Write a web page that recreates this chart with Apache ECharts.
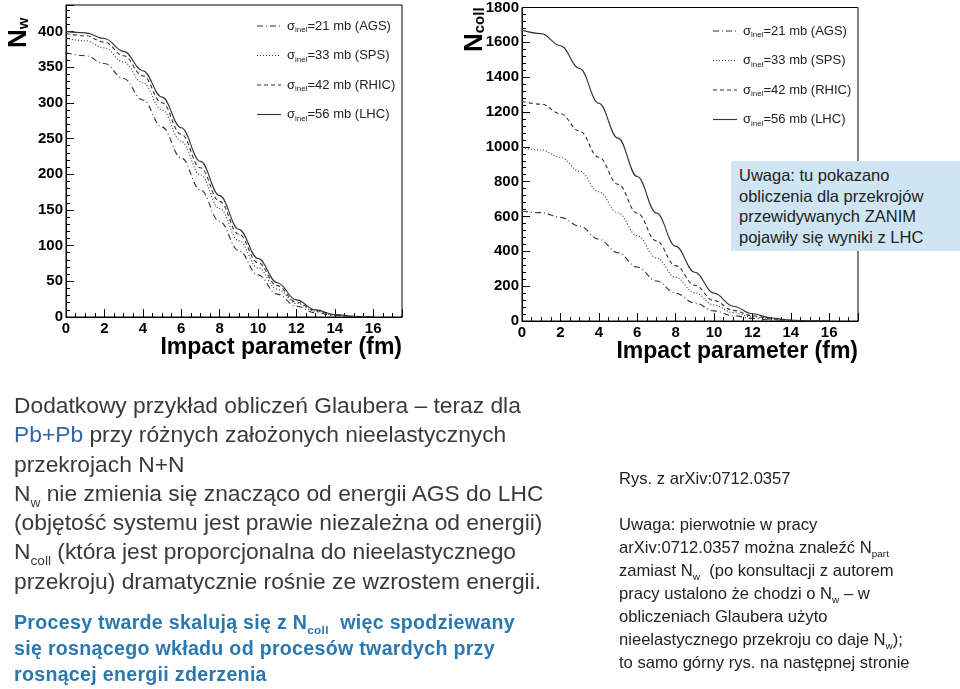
<!DOCTYPE html>
<html><head><meta charset="utf-8">
<script src="https://cdn.jsdelivr.net/npm/echarts@6/dist/echarts.min.js"></script>
<style>
body{margin:0;width:960px;height:689px;position:relative;background:#fff;font-family:"Liberation Sans",Arial,sans-serif;overflow:hidden}
#c{position:absolute;left:0;top:0;width:960px;height:689px}
.t{position:absolute;color:#3a3a3a}
sub{font-size:60%;line-height:0}
</style></head><body>
<div id="c"></div>
<div class="t" style="left:731px;top:161px;width:221px;height:86px;padding:4px 0 0 8px;background:#cfe5f3;font-size:16.5px;line-height:20.5px;color:#222">Uwaga: tu pokazano obliczenia dla przekrojów przewidywanych ZANIM pojawiły się wyniki z LHC</div>
<div class="t" style="left:14px;top:391px;font-size:22.8px;line-height:29.3px;width:600px">Dodatkowy przykład obliczeń Glaubera – teraz dla<br><span style="color:#3465a4">Pb+Pb</span> przy różnych założonych nieelastycznych<br>przekrojach N+N<br>N<sub>w</sub> nie zmienia się znacząco od energii AGS do LHC<br>(objętość systemu jest prawie niezależna od energii)<br>N<sub>coll</sub> (która jest proporcjonalna do nieelastycznego<br>przekroju) dramatycznie rośnie ze wzrostem energii.</div>
<div class="t" style="left:14px;top:609px;font-size:19.6px;line-height:26px;color:#2a78ad;font-weight:bold;letter-spacing:0.3px">Procesy twarde skalują się z N<sub>coll</sub>&nbsp; więc spodziewany<br>się rosnącego wkładu od procesów twardych przy<br>rosnącej energii zderzenia</div>
<div class="t" style="left:619px;top:467px;font-size:16.6px;line-height:23px;color:#222">Rys. z arXiv:0712.0357<br><div style="height:23px"></div>Uwaga: pierwotnie w pracy<br>arXiv:0712.0357 można znaleźć N<sub>part</sub><br>zamiast N<sub>w</sub> &nbsp;(po konsultacji z autorem<br>pracy ustalono że chodzi o N<sub>w</sub> – w<br>obliczeniach Glaubera użyto<br>nieelastycznego przekroju co daje N<sub>w</sub>);<br>to samo górny rys. na następnej stronie</div>
<script>
const b = [0,1,2,3,4,5,6,7,8,9,10,11,12,13,14,15,16];
const labels = ['21 mb (AGS)','33 mb (SPS)','42 mb (RHIC)','56 mb (LHC)'];
const nwAGS  = [370,366,355,334,304,266,223,178,134,93,59,32,15,6,2,0.5,0.1];
const nwSPS  = [390,387,377,357,328,290,246,199,152,107,69,39,19,8,2.5,0.6,0.1];
const nwRHIC = [397,394,385,366,338,300,256,209,162,116,76,44,21,9,3,0.8,0.1];
const nwLHC  = [400,398,390,372,345,308,265,218,170,123,82,48,24,10,3.5,1,0.2];
const ncAGS  = [630,622,595,545,470,392,310,230,160,103,58,30,15,6,2,0.4,0.1];
const ncSPS  = [995,982,940,860,742,620,490,363,251,162,92,48,24,9,3,0.6,0.1];
const ncRHIC = [1260,1245,1190,1090,940,785,620,460,318,205,117,61,30,12,3.5,0.8,0.1];
const ncLHC  = [1670,1650,1580,1450,1250,1050,830,620,430,280,160,85,42,17,5,1,0.2];
const styles = [[6,3,1,3],[1,2],[4,3],'solid'];
const lab = {fontFamily:'Liberation Sans',fontWeight:'bold',fontSize:15,color:'#000'};
function xAx(g){return {type:'value',gridIndex:g,min:0,max:17.5,interval:2,
  axisLine:{lineStyle:{color:'#000'}},axisTick:{inside:true,length:8,lineStyle:{color:'#000'}},
  minorTick:{show:true,splitNumber:4,length:4,lineStyle:{color:'#000'}},
  axisLabel:Object.assign({margin:4,showMaxLabel:false,formatter:v=>String(v)},lab),splitLine:{show:false},
  name:'Impact parameter (fm)',nameLocation:'end',nameGap:0,
  nameTextStyle:{fontFamily:'Liberation Sans',fontWeight:'bold',fontSize:23,color:'#000',align:'right',verticalAlign:'top',padding:[19,0,0,0]}};}
function yAx(g,max,iv,showMax){return {type:'value',gridIndex:g,min:0,max:max,interval:iv,
  axisLine:{lineStyle:{color:'#000'}},axisTick:{inside:true,length:8,lineStyle:{color:'#000'}},
  minorTick:{show:true,splitNumber:5,length:4,lineStyle:{color:'#000'}},
  axisLabel:Object.assign({margin:3,showMaxLabel:showMax,formatter:v=>String(v)},lab),splitLine:{show:false}};}
function ser(data,i,g){return {type:'line',xAxisIndex:g,yAxisIndex:g,smooth:0.4,smoothMonotone:'x',showSymbol:false,
  data:b.map((x,k)=>[x,data[k]]),lineStyle:{color:'#333',width:1.1,type:styles[i]}};}
const ch = echarts.init(document.getElementById('c'));
const series=[];
[nwAGS,nwSPS,nwRHIC,nwLHC].forEach((d,i)=>series.push(ser(d,i,0)));
[ncAGS,ncSPS,ncRHIC,ncLHC].forEach((d,i)=>series.push(ser(d,i,1)));
const graphic=[];
[[0,257,26],[1,713,31]].forEach(([g,x0,y0])=>{
  labels.forEach((t,i)=>{
    const y=y0+i*29.5;
    graphic.push({type:'line',shape:{x1:x0,y1:y,x2:x0+24,y2:y},style:{stroke:'#333',lineWidth:1.1,lineDash:styles[i]==='solid'?null:styles[i]}});
    graphic.push({type:'text',x:x0+30,y:y,style:{text:'{a|σ}{s|inel}{a|='+t+'}',verticalAlign:'middle',
      rich:{a:{fontFamily:'Liberation Sans',fontSize:13,fill:'#222'},s:{fontFamily:'Liberation Sans',fontSize:8,fill:'#222',verticalAlign:'bottom',padding:[8,0,0,0]}}}});
  });
});
graphic.push({type:'text',x:6,y:48,rotation:Math.PI/2,style:{text:'{a|N}{s|w}',rich:{a:{fontFamily:'Liberation Sans',fontWeight:'bold',fontSize:26,fill:'#000'},s:{fontFamily:'Liberation Sans',fontWeight:'bold',fontSize:15,fill:'#000',padding:[10,0,0,0]}}}});
graphic.push({type:'text',x:462,y:52,rotation:Math.PI/2,style:{text:'{a|N}{s|coll}',rich:{a:{fontFamily:'Liberation Sans',fontWeight:'bold',fontSize:26,fill:'#000'},s:{fontFamily:'Liberation Sans',fontWeight:'bold',fontSize:15,fill:'#000',padding:[10,0,0,0]}}}});
ch.setOption({animation:false,
  grid:[{left:66,right:558,top:5,bottom:372,show:true,borderColor:'#000',borderWidth:1},
        {left:522,right:102,top:6,bottom:368,show:true,borderColor:'#000',borderWidth:1}],
  xAxis:[xAx(0),xAx(1)],
  yAxis:[yAx(0,437,50,false),yAx(1,1800,200,true)],
  series:series,graphic:graphic});
</script></body></html>
